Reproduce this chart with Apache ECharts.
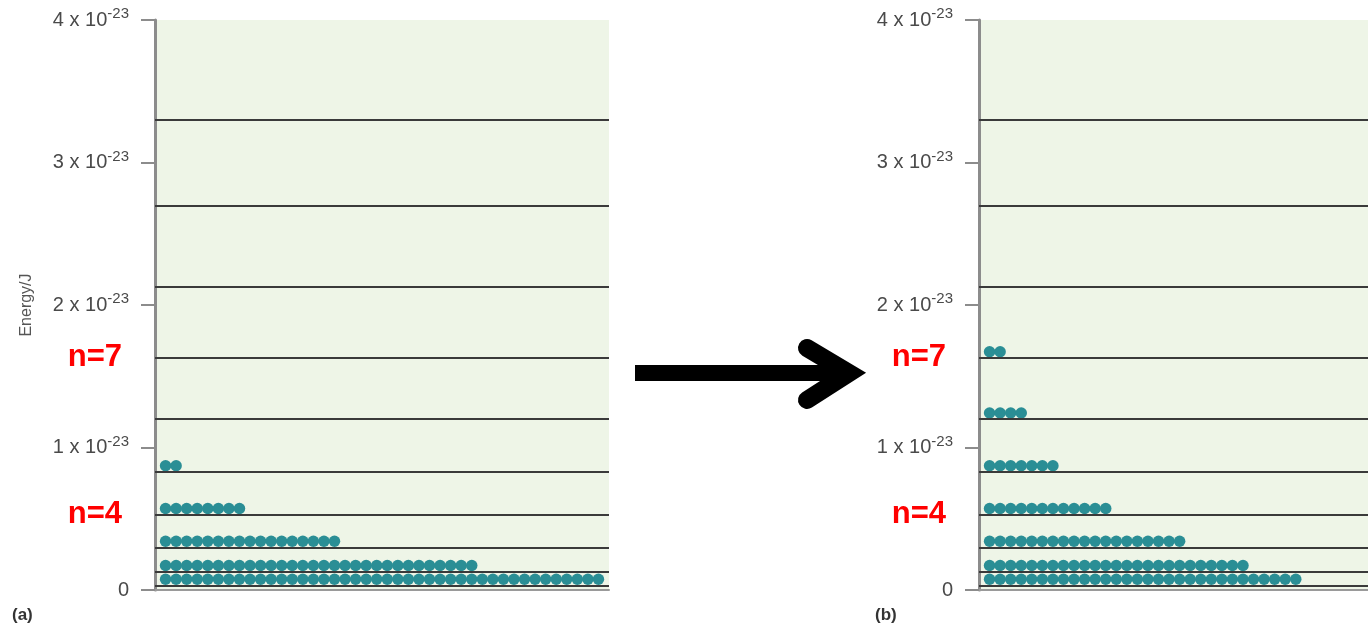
<!DOCTYPE html>
<html>
<head>
<meta charset="utf-8">
<script src="https://cdn.jsdelivr.net/npm/echarts@6/dist/echarts.min.js"></script>
<style>
  html, body { margin: 0; padding: 0; background: #fff; }
  #main { width: 1368px; height: 629px; }
</style>
</head>
<body>
<div id="main"></div>
<script>
// energy of levels n=1..10, in units of 1e-23 J
var levels = [0.033, 0.13, 0.30, 0.53, 0.83, 1.20, 1.63, 2.13, 2.70, 3.30];
// number of particles on each level, starting at n=1
var countsA = [42, 30, 17, 8, 2];
var countsB = [30, 25, 19, 12, 7, 4, 2];
var yTicks = [0, 1, 2, 3, 4];
var labelledLevels = [4, 7];

var dotColor = "#2a8e95";
var axisGrey = "#8c8c8c";

function dots(counts) {
  var pts = [];
  counts.forEach(function(c, k) {
    for (var i = 1; i <= c; i++) pts.push([i, levels[k]]);
  });
  return pts;
}

function levelLines() {
  return levels.map(function(v, k) {
    var n = k + 1;
    return {
      yAxis: v,
      label: {
        show: labelledLevels.indexOf(n) >= 0,
        formatter: "n=" + n
      }
    };
  });
}

function yAxis(idx, withName) {
  return {
    type: "value",
    gridIndex: idx,
    min: yTicks[0],
    max: yTicks[yTicks.length - 1],
    interval: 1,
    name: withName ? "Energy/J" : "",
    nameLocation: "middle",
    nameRotate: 90,
    nameGap: 120,
    nameTextStyle: { color: "#555", fontSize: 16, fontFamily: "Liberation Sans" },
    axisLine: { show: true, lineStyle: { color: axisGrey, width: 3 } },
    axisTick: { show: true, length: 14, lineStyle: { color: axisGrey, width: 2 } },
    splitLine: { show: false },
    axisLabel: {
      margin: 26,
      color: "#444",
      fontFamily: "Liberation Sans",
      formatter: function(v) {
        return v === 0 ? "{b|0}" : "{b|" + v + " x 10}{s|-23}";
      },
      rich: {
        b: { fontSize: 20, color: "#4a4a4a", fontFamily: "Liberation Sans" },
        s: { fontSize: 15, color: "#4a4a4a", fontFamily: "Liberation Sans", padding: [0, 0, 12, 0] }
      }
    }
  };
}

function xAxis(idx, max) {
  return {
    type: "value",
    gridIndex: idx,
    min: 0,
    max: max,
    axisLine: { show: true, lineStyle: { color: "#9a9a9a", width: 2 } },
    axisTick: { show: false },
    axisLabel: { show: false },
    splitLine: { show: false }
  };
}

function series(idx, counts) {
  return {
    type: "scatter",
    xAxisIndex: idx,
    yAxisIndex: idx,
    data: dots(counts),
    symbol: "circle",
    symbolSize: 11.5,
    symbolOffset: [0, -6],
    itemStyle: { color: dotColor, opacity: 1 },
    z: 3,
    markLine: {
      silent: true,
      symbol: "none",
      animation: false,
      lineStyle: { color: "#3a3a3a", width: 2, type: "solid" },
      label: {
        position: "start",
        distance: 33,
        color: "#ff0000",
        fontSize: 31,
        fontWeight: "bold",
        fontFamily: "Liberation Sans"
      },
      data: levelLines()
    }
  };
}

var myChart = echarts.init(document.getElementById("main"));
var option = {
  animation: false,
  grid: [
    { left: 155, top: 20, width: 454, bottom: 39, show: true, backgroundColor: "#eef5e7", borderWidth: 0 },
    { left: 979, top: 20, right: 0, bottom: 39, show: true, backgroundColor: "#eef5e7", borderWidth: 0 }
  ],
  xAxis: [xAxis(0, 43), xAxis(1, 36.84)],
  yAxis: [yAxis(0, true), yAxis(1, false)],
  series: [series(0, countsA), series(1, countsB)],
  graphic: [
    {
      type: "text", left: 12, top: 607,
      style: { text: "(a)", fontSize: 17, fontWeight: "bold", fill: "#333", fontFamily: "Liberation Sans" }
    },
    {
      type: "text", left: 875, top: 607,
      style: { text: "(b)", fontSize: 17, fontWeight: "bold", fill: "#333", fontFamily: "Liberation Sans" }
    },
    {
      type: "line",
      shape: { x1: 635, y1: 373, x2: 846, y2: 373 },
      style: { stroke: "#000", lineWidth: 16 }
    },
    {
      type: "polyline",
      shape: { points: [[807, 348], [849, 373], [807, 400]] },
      style: { stroke: "#000", lineWidth: 18, lineCap: "round", lineJoin: "miter", fill: null }
    }
  ]
};
myChart.setOption(option);
</script>
</body>
</html>
